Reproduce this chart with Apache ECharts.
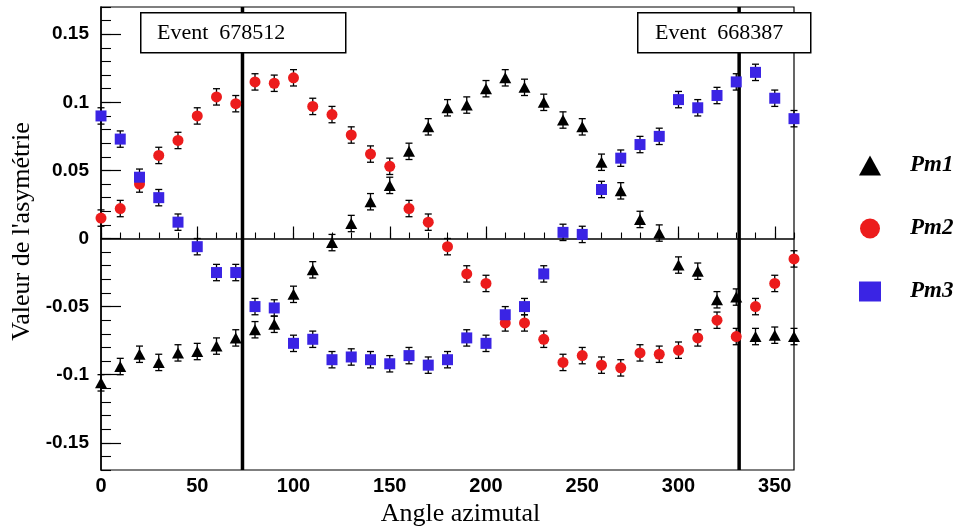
<!DOCTYPE html>
<html><head><meta charset="utf-8">
<script src="https://cdn.jsdelivr.net/npm/echarts@6/dist/echarts.min.js"></script>
<style>html,body{margin:0;padding:0;background:#fff}#c{width:963px;height:529px}</style>
</head><body><div id="c"></div>
<script>
const angles = [0,10,20,30,40,50,60,70,80,90,100,110,120,130,140,150,160,170,180,190,200,210,220,230,240,250,260,270,280,290,300,310,320,330,340,350,360];
const pm1 = [-0.106,-0.094,-0.085,-0.091,-0.084,-0.083,-0.079,-0.073,-0.067,-0.063,-0.041,-0.023,-0.003,0.011,0.027,0.039,0.064,0.082,0.096,0.098,0.110,0.118,0.111,0.100,0.087,0.082,0.056,0.035,0.014,0.004,-0.0195,-0.024,-0.045,-0.043,-0.072,-0.071,-0.072];
const pm2 = [0.015,0.022,0.040,0.061,0.072,0.090,0.104,0.099,0.115,0.114,0.118,0.097,0.091,0.076,0.062,0.053,0.022,0.012,-0.006,-0.026,-0.033,-0.062,-0.062,-0.074,-0.091,-0.086,-0.093,-0.095,-0.084,-0.085,-0.082,-0.073,-0.060,-0.072,-0.050,-0.033,-0.015];
const pm3 = [0.090,0.073,0.045,0.030,0.012,-0.006,-0.025,-0.025,-0.050,-0.051,-0.077,-0.074,-0.089,-0.087,-0.089,-0.092,-0.086,-0.093,-0.089,-0.073,-0.077,-0.056,-0.050,-0.026,0.0045,0.003,0.036,0.059,0.069,0.075,0.102,0.096,0.105,0.115,0.122,0.103,0.088];
const errPm1 = 0.006, errPm2 = 0.006, errPm3 = 0.006;
const eventAngles = [73.5, 331.5];
const eventLabels = ['Event  678512', 'Event  668387'];
const xMajorTicks = [0,50,100,150,200,250,300,350];
const xMinorTicks = [0,10,20,30,40,50,60,70,80,90,100,110,120,130,140,150,160,170,180,190,200,210,220,230,240,250,260,270,280,290,300,310,320,330,340,350,360];
const yMajorTicks = [-0.15,-0.1,-0.05,0,0.05,0.1,0.15];
const yMinorTicks = [-0.17,-0.16,-0.15,-0.14,-0.13,-0.12,-0.11,-0.1,-0.09,-0.08,-0.07,-0.06,-0.05,-0.04,-0.03,-0.02,-0.01,0,0.01,0.02,0.03,0.04,0.05,0.06,0.07,0.08,0.09,0.1,0.11,0.12,0.13,0.14,0.15,0.16,0.17];

const SERIF = '"Liberation Serif","Times New Roman",serif';
const SANS = '"Liberation Sans",Arial,sans-serif';
const chart = echarts.init(document.getElementById('c'), null, {renderer:'canvas'});

function pts(v){ return angles.map((a,i)=>[a, v[i]]); }
function errPts(v,e){ return angles.map((a,i)=>[a, v[i], e]); }
function errRender(params, api){
  const x = api.value(0), y = api.value(1), e = api.value(2);
  const t = api.coord([x, y+e]), b = api.coord([x, y-e]);
  const w = 3.5, st = {stroke:'#000', lineWidth:1.3};
  return {type:'group', children:[
    {type:'line', shape:{x1:t[0],y1:t[1],x2:b[0],y2:b[1]}, style:st},
    {type:'line', shape:{x1:t[0]-w,y1:t[1],x2:t[0]+w,y2:t[1]}, style:st},
    {type:'line', shape:{x1:b[0]-w,y1:b[1],x2:b[0]+w,y2:b[1]}, style:st}
  ]};
}
const yMin = -0.17, yMax = 0.17;
function eventRender(params, api){
  const x = api.value(0);
  const t = api.coord([x, yMax]), b = api.coord([x, yMin]);
  return {type:'line', shape:{x1:t[0],y1:t[1],x2:b[0],y2:b[1]}, style:{stroke:'#000', lineWidth:3.5}};
}

const option = {
  animation:false,
  backgroundColor:'#fff',
  grid:{left:101, right:169, top:7, bottom:59, show:true, borderColor:'#000', borderWidth:1.2, backgroundColor:'transparent',
        containLabel:false, outerBoundsMode:'none'},
  xAxis:[
    {type:'value', min:0, max:360, position:'bottom',
     axisLine:{show:true, lineStyle:{color:'#000', width:1.5}},
     axisTick:{show:true, inside:true, length:12, customValues:xMajorTicks, lineStyle:{color:'#000', width:1.2}},
     axisLabel:{show:true, customValues:xMajorTicks, color:'#000', fontFamily:SANS, fontWeight:'bold', fontSize:20, margin:6},
     splitLine:{show:false},
     name:'Angle azimutal', nameLocation:'middle', nameGap:31,
     nameTextStyle:{fontFamily:SERIF, fontSize:26, color:'#000', padding:[0,0,0,26]}},
    {type:'value', min:0, max:360, position:'bottom',
     axisLine:{show:false}, axisLabel:{show:false}, splitLine:{show:false},
     axisTick:{show:true, inside:true, length:6, customValues:xMinorTicks, lineStyle:{color:'#000', width:1.1}}}
  ],
  yAxis:[
    {type:'value', min:yMin, max:yMax, position:'left',
     axisLine:{show:true, lineStyle:{color:'#000', width:1.5}},
     axisTick:{show:true, inside:true, length:20, customValues:yMajorTicks, lineStyle:{color:'#000', width:1.2}},
     axisLabel:{show:true, customValues:yMajorTicks, color:'#000', fontFamily:SANS, fontWeight:'bold', fontSize:19, margin:12,
       formatter:v=>String(Math.round(v*100)/100)},
     splitLine:{show:false},
     name:"Valeur de l'asymétrie", nameLocation:'middle', nameGap:64, nameRotate:90,
     nameTextStyle:{fontFamily:SERIF, fontSize:26, color:'#000', padding:[0,0,0,14]}},
    {type:'value', min:yMin, max:yMax, position:'left',
     axisLine:{show:false}, axisLabel:{show:false}, splitLine:{show:false},
     axisTick:{show:true, inside:true, length:10, customValues:yMinorTicks, lineStyle:{color:'#000', width:1.1}}}
  ],
  legend:{
    orient:'vertical', left:854, top:149, itemWidth:22, itemHeight:20, itemGap:40,
    data:[{name:'Pm1', icon:'triangle'},{name:'Pm2', icon:'circle'},{name:'Pm3', icon:'rect'}],
    textStyle:{fontFamily:SERIF, fontStyle:'italic', fontWeight:'bold', fontSize:23, color:'#000', padding:[0,0,0,24]}
  },
  series:[
    {type:'custom', name:'eventLines', renderItem:eventRender, data:eventAngles.map(a=>[a]), encode:{x:0}, z:1, silent:true},
    {type:'custom', name:'err1', renderItem:errRender, data:errPts(pm1,errPm1), encode:{x:0,y:1}, z:2, silent:true},
    {type:'custom', name:'err2', renderItem:errRender, data:errPts(pm2,errPm2), encode:{x:0,y:1}, z:2, silent:true},
    {type:'custom', name:'err3', renderItem:errRender, data:errPts(pm3,errPm3), encode:{x:0,y:1}, z:2, silent:true},
    {type:'scatter', name:'Pm1', data:pts(pm1), symbol:'triangle', symbolSize:[12,11], itemStyle:{color:'#000', opacity:1}, z:3},
    {type:'scatter', name:'Pm2', data:pts(pm2), symbol:'circle', symbolSize:11, itemStyle:{color:'#ec1c1c', opacity:1}, z:3},
    {type:'scatter', name:'Pm3', data:pts(pm3), symbol:'rect', symbolSize:11, itemStyle:{color:'#3a24e4', opacity:1}, z:3}
  ],
  graphic:[
    {type:'rect', left:140, top:12, z:100, zlevel:1, shape:{width:205,height:40}, style:{fill:'#fff', stroke:'#000', lineWidth:1.5}},
    {type:'text', left:157, top:22, z:101, zlevel:1, style:{text:eventLabels[0], font:'22px '+SERIF, fill:'#000'}},
    {type:'rect', left:637, top:12, z:100, zlevel:1, shape:{width:173,height:40}, style:{fill:'#fff', stroke:'#000', lineWidth:1.5}},
    {type:'text', left:655, top:22, z:101, zlevel:1, style:{text:eventLabels[1], font:'22px '+SERIF, fill:'#000'}}
  ]
};
chart.setOption(option);
</script></body></html>
